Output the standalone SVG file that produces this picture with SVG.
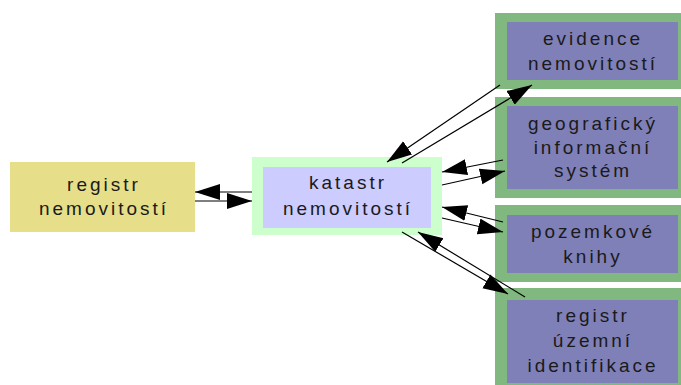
<svg xmlns="http://www.w3.org/2000/svg" width="681" height="385" viewBox="0 0 681 385">
<defs>
<marker id="ah" markerUnits="userSpaceOnUse" markerWidth="28" markerHeight="18" refX="25" refY="8" orient="auto">
<path d="M0,0 L25,8 L0,16 z" fill="#000"/>
</marker>
<style>
.t{font-family:"Liberation Sans",Arial,sans-serif;font-size:19px;letter-spacing:3px;fill:#1a1a1a;text-anchor:middle}
.outer{fill:#80b880}
.inner{fill:#8080b8}
.c{stroke:#000;stroke-width:1.2;fill:none;marker-end:url(#ah)}
</style>
</defs>
<rect width="681" height="385" fill="#fff"/>
<g id="registr-nemovitosti">
<rect x="10" y="162" width="185" height="70" fill="#e6de88"/>
<text class="t" x="104" y="191">registr</text>
<text class="t" x="104" y="215">nemovitostí</text>
</g>
<g id="katastr-nemovitosti">
<rect x="252" y="157" width="190" height="78" fill="#ccffcc"/>
<rect x="263" y="167" width="168" height="61" fill="#ccccff"/>
<text class="t" x="348" y="189">katastr</text>
<text class="t" x="348" y="215">nemovitostí</text>
</g>
<g id="evidence-nemovitosti">
<rect class="outer" x="495" y="13" width="186" height="76"/>
<rect class="inner" x="507" y="22" width="171" height="58"/>
<text class="t" x="593" y="45">evidence</text>
<text class="t" x="593" y="70">nemovitostí</text>
</g>
<g id="gis">
<rect class="outer" x="495" y="97" width="186" height="101"/>
<rect class="inner" x="507" y="106" width="171" height="83"/>
<text class="t" x="593" y="130">geografický</text>
<text class="t" x="593" y="154">informační</text>
<text class="t" x="593" y="177">systém</text>
</g>
<g id="pozemkove-knihy">
<rect class="outer" x="495" y="205" width="186" height="77"/>
<rect class="inner" x="507" y="215" width="171" height="58"/>
<text class="t" x="593" y="238">pozemkové</text>
<text class="t" x="593" y="263">knihy</text>
</g>
<g id="registr-uzemni-identifikace">
<rect class="outer" x="495" y="288" width="186" height="97"/>
<rect class="inner" x="507" y="300" width="171" height="83"/>
<text class="t" x="593" y="322">registr</text>
<text class="t" x="593" y="347">územní</text>
<text class="t" x="593" y="372">identifikace</text>
</g>
<g id="connectors">
<line class="c" x1="252" y1="192" x2="195" y2="192"/>
<line class="c" x1="195" y1="201" x2="252" y2="201"/>
<line class="c" x1="500" y1="85" x2="387" y2="162"/>
<line class="c" x1="402" y1="163" x2="532" y2="85"/>
<line class="c" x1="503" y1="160" x2="442" y2="172"/>
<line class="c" x1="442" y1="185" x2="505" y2="171"/>
<line class="c" x1="503" y1="222" x2="442" y2="207"/>
<line class="c" x1="442" y1="218" x2="503" y2="232"/>
<line class="c" x1="525" y1="297" x2="418" y2="232"/>
<line class="c" x1="402" y1="232" x2="508" y2="294"/>
</g>
</svg>
